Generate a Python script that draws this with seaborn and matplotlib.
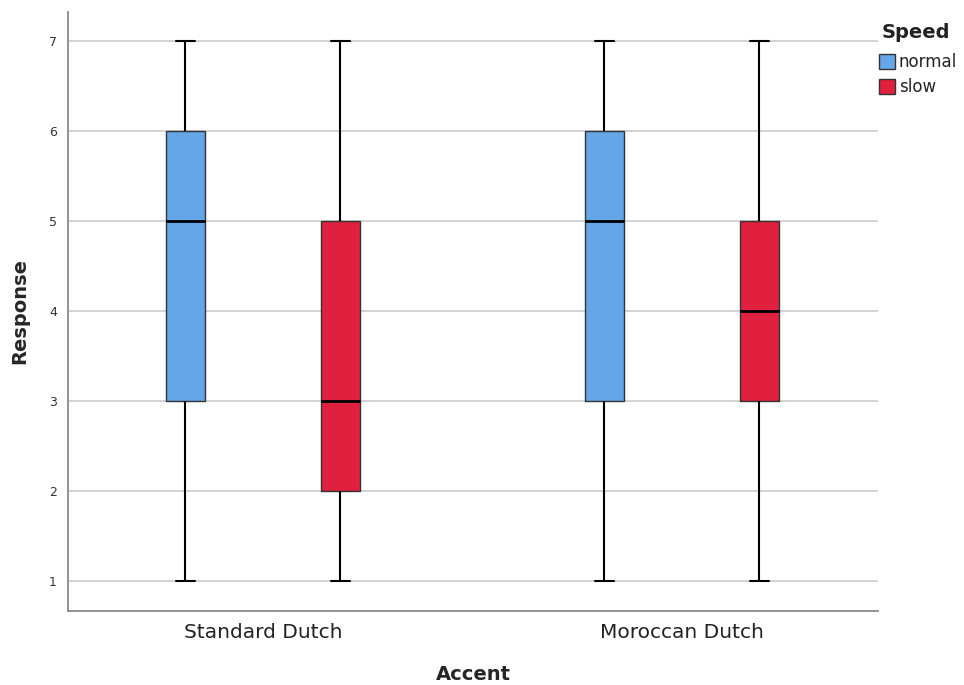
import matplotlib
matplotlib.use("Agg")
import matplotlib.pyplot as plt
import seaborn as sns
import pandas as pd

# Responses per accent/speed condition (7-point scale)
accents = ["Standard Dutch", "Moroccan Dutch"]
speeds = ["normal", "slow"]
standard_normal = [1, 2, 3, 4, 5, 5, 6, 7, 7]
standard_slow = [1, 1, 2, 3, 3, 4, 5, 6, 7]
moroccan_normal = [1, 3, 3, 4, 5, 6, 6, 7, 7]
moroccan_slow = [1, 2, 3, 4, 4, 4, 5, 6, 7]
y_ticks = [1, 2, 3, 4, 5, 6, 7]

rows = []
for acc, sp, vals in [
    (accents[0], speeds[0], standard_normal),
    (accents[0], speeds[1], standard_slow),
    (accents[1], speeds[0], moroccan_normal),
    (accents[1], speeds[1], moroccan_slow),
]:
    for v in vals:
        rows.append({"Accent": acc, "Speed": sp, "Response": v})
df = pd.DataFrame(rows)

sns.set_theme(style="white")
plt.rcParams["font.family"] = ["DejaVu Sans"]

fig = plt.figure(figsize=(9.64, 6.85), dpi=100)
ax = fig.add_axes([68 / 964, 1 - 611 / 685, (878 - 68) / 964, (611 - 12) / 685])

palette = {"normal": "#64a6e8", "slow": "#e0203f"}
sns.boxplot(
    data=df, x="Accent", y="Response", hue="Speed",
    order=accents, hue_order=speeds, palette=palette,
    width=0.74, gap=0.749, whis=1.5, saturation=1,
    linecolor="#222222", linewidth=1.0, fliersize=0,
    medianprops=dict(color="black", linewidth=2.0),
    whiskerprops=dict(color="black", linewidth=1.5),
    capprops=dict(color="black", linewidth=1.5),
    boxprops=dict(edgecolor="#333333", linewidth=1.0),
    ax=ax, legend=True, zorder=3,
)

ax.set_xlim(-0.465, 1.468)
ax.set_ylim(0.667, 7.32)
ax.set_yticks(y_ticks)
ax.set_yticklabels([str(t) for t in y_ticks], fontsize=9, color="#333333")
ax.tick_params(axis="x", labelsize=14.5, colors="#222222", length=0, pad=9)
ax.tick_params(axis="y", length=0, pad=8)

ax.yaxis.grid(True, color="#cfcfcf", linewidth=1.3, zorder=0)
ax.set_axisbelow(True)
for s in ["top", "right"]:
    ax.spines[s].set_visible(False)
for s in ["left", "bottom"]:
    ax.spines[s].set_color("#8a8a8a")
    ax.spines[s].set_linewidth(1.3)

ax.set_xlabel("Accent", fontsize=14, fontweight="bold", labelpad=16)
ax.set_ylabel("Response", fontsize=14, fontweight="bold", labelpad=14)

handles, labels = ax.get_legend_handles_labels()
fig.text(882 / 964, 1 - 32 / 685, "Speed", fontsize=14, fontweight="bold",
         color="#222222", ha="left", va="center")
leg = ax.legend(
    handles, labels, loc="upper left",
    bbox_to_anchor=(879 / 964, 1 - 53 / 685), bbox_transform=fig.transFigure,
    frameon=False, fontsize=12, labelcolor="#222222",
    handlelength=0.95, handleheight=1.0, handletextpad=0.25, labelspacing=0.45,
    borderaxespad=0, borderpad=0,
)

fig.savefig("out.png", dpi=100)
